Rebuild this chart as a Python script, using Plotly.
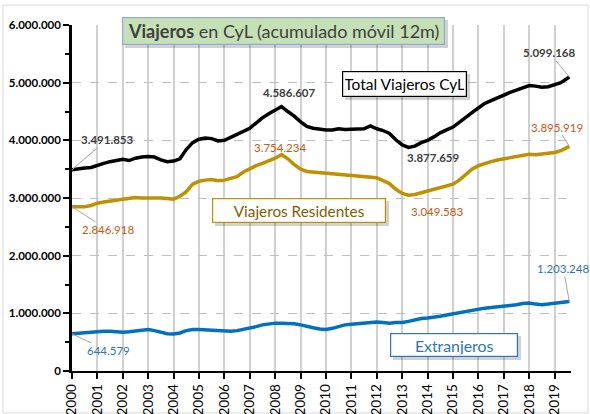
import pandas as pd
import plotly.graph_objects as go

# ---------------- data (millions of travellers, 12-month rolling sum) ----------------
dates = [d.strftime("%Y-%m-%d") for d in pd.date_range("2000-01-01", "2019-04-01", freq="QS")] + ["2019-08-01"]

total = [3.491853, 3.51, 3.52, 3.53, 3.57, 3.60, 3.63, 3.65, 3.67, 3.65, 3.69, 3.71,
         3.72, 3.71, 3.66, 3.63, 3.64, 3.68, 3.84, 3.96, 4.02, 4.04, 4.03, 3.99,
         4.00, 4.05, 4.10, 4.15, 4.21, 4.30, 4.39, 4.46, 4.53, 4.586607, 4.50, 4.42,
         4.32, 4.24, 4.21, 4.19, 4.18, 4.18, 4.20, 4.19, 4.19, 4.20, 4.20, 4.25,
         4.20, 4.17, 4.12, 4.01, 3.92, 3.877659, 3.90, 3.96, 4.00, 4.06, 4.13, 4.18,
         4.23, 4.31, 4.40, 4.48, 4.56, 4.64, 4.69, 4.74, 4.79, 4.83, 4.87, 4.91,
         4.95, 4.94, 4.92, 4.93, 4.96, 5.00, 5.099168]

residentes = [2.846918, 2.85, 2.85, 2.87, 2.91, 2.93, 2.94, 2.96, 2.98, 2.99, 3.01, 3.00,
              3.00, 3.01, 3.00, 2.99, 2.98, 3.03, 3.11, 3.24, 3.29, 3.31, 3.32, 3.30,
              3.31, 3.34, 3.37, 3.45, 3.51, 3.56, 3.60, 3.64, 3.69, 3.754234, 3.68, 3.58,
              3.50, 3.46, 3.45, 3.44, 3.43, 3.43, 3.42, 3.41, 3.40, 3.38, 3.38, 3.37,
              3.35, 3.30, 3.25, 3.15, 3.08, 3.049583, 3.06, 3.09, 3.12, 3.15, 3.18, 3.21,
              3.24, 3.31, 3.40, 3.50, 3.56, 3.60, 3.63, 3.66, 3.68, 3.71, 3.73, 3.75,
              3.76, 3.75, 3.76, 3.77, 3.79, 3.82, 3.895919]

extranjeros = [0.644579, 0.655, 0.665, 0.68, 0.69, 0.69, 0.69, 0.68, 0.67, 0.68, 0.69, 0.71,
               0.72, 0.70, 0.67, 0.645, 0.64, 0.66, 0.70, 0.72, 0.72, 0.715, 0.70, 0.69,
               0.69, 0.69, 0.70, 0.72, 0.74, 0.77, 0.80, 0.82, 0.83, 0.83, 0.83, 0.82,
               0.80, 0.77, 0.75, 0.73, 0.72, 0.74, 0.77, 0.80, 0.81, 0.82, 0.83, 0.85,
               0.85, 0.84, 0.83, 0.84, 0.84, 0.86, 0.89, 0.91, 0.92, 0.93, 0.95, 0.97,
               0.99, 1.01, 1.03, 1.06, 1.08, 1.09, 1.10, 1.11, 1.13, 1.14, 1.15, 1.17,
               1.18, 1.16, 1.15, 1.16, 1.17, 1.18, 1.203248]

years = list(range(2000, 2020))
y_ticks = [0, 1e6, 2e6, 3e6, 4e6, 5e6, 6e6]
y_labels = ["0", "1.000.000", "2.000.000", "3.000.000", "4.000.000", "5.000.000", "6.000.000"]


def fmt(v):
    return f"{round(v):,}".replace(",", ".")


total_v = [v * 1e6 for v in total]
res_v = [v * 1e6 for v in residentes]
ext_v = [v * 1e6 for v in extranjeros]

FONT = "Lato"
W, H = 590, 414
L, R, T, B = 72, 19, 25, 43
PW, PH = W - L - R, H - T - B


def px(xp):
    return (xp - L) / PW


def py(yp):
    return (H - B - yp) / PH


fig = go.Figure()
fig.add_trace(go.Scatter(x=dates, y=ext_v, mode="lines", line=dict(color="#0070C0", width=3.5),
                         name="Extranjeros", hoverinfo="skip"))
fig.add_trace(go.Scatter(x=dates, y=res_v, mode="lines", line=dict(color="#BF9000", width=3.5),
                         name="Viajeros Residentes", hoverinfo="skip"))
fig.add_trace(go.Scatter(x=dates, y=total_v, mode="lines", line=dict(color="#000000", width=3.5),
                         name="Total Viajeros CyL", hoverinfo="skip"))

annotations = []


def box(text, cx, cy, w, h, color, border, bg, size):
    return dict(text=text, xref="paper", yref="paper", x=px(cx), y=py(cy), showarrow=False,
                xanchor="center", yanchor="middle", width=w, height=h, align="center",
                font=dict(family=FONT, size=size, color=color), bgcolor=bg,
                bordercolor=border, borderwidth=1.2, borderpad=2)


annotations.append(box("<b>Viajeros</b> en CyL (acumulado móvil 12m)", 283, 31, 317, 22,
                       "#404040", "#8FAADC", "#C5E0B4", 18))
annotations.append(box("Total Viajeros CyL", 404, 83.5, 119, 20, "#000000", "#000000", "white", 15.5))
annotations.append(box("Viajeros Residentes", 299, 210.5, 168, 19, "#7F6000", "#BF9000", "white", 15.3))
annotations.append(box("Extranjeros", 454, 345, 122, 18, "#2E75B6", "#2E75B6", "white", 15.8))


def lbl(text, cx, cy, color, bold=False):
    t = f"<b>{text}</b>" if bold else text
    return dict(text=t, xref="paper", yref="paper", x=px(cx), y=py(cy), showarrow=False,
                xanchor="center", yanchor="middle", font=dict(family=FONT, size=11.5, color=color))


def lead(text, x, y, ax, ay, color, bold=False):
    t = f"<b>{text}</b>" if bold else text
    return dict(text=t, x=x, y=y, xref="x", yref="y", ax=ax, ay=ay, showarrow=True,
                arrowhead=0, arrowwidth=1, arrowcolor="#A6A6A6", standoff=0, startstandoff=0,
                font=dict(family=FONT, size=11.5, color=color))


DARK, ORANGE, BLUE = "#404040", "#C55A11", "#2E75B6"
annotations += [
    lead(fmt(total_v[0]), dates[0], total_v[0], 35, -30, DARK, True),
    lead(fmt(res_v[0]), dates[0], res_v[0], 36, 23, ORANGE),
    lead(fmt(ext_v[0]), dates[0], ext_v[0], 36, 17, BLUE),
    lead(fmt(total_v[-1]), dates[-1], total_v[-1], -20, -24, DARK, True),
    lead(fmt(res_v[-1]), dates[-1], res_v[-1], -12, -19, ORANGE),
    lead(fmt(ext_v[-1]), dates[-1], ext_v[-1], -6, -33, BLUE),
    lbl(fmt(max(total_v[:60])), 289, 92, DARK, True),
    lbl(fmt(min(total_v[40:])), 433, 157, DARK, True),
    lbl(fmt(max(res_v[:60])), 280, 147, ORANGE),
    lbl(fmt(min(res_v[40:])), 437, 212, ORANGE),
]

shapes = [
    # outer chart border
    dict(type="rect", xref="paper", yref="paper", x0=px(3), x1=px(588), y0=py(413), y1=py(5),
         line=dict(color="#D9D9D9", width=1), fillcolor="rgba(0,0,0,0)", layer="below"),
]
# soft shadows under the text boxes
for (x0, y0, x1, y1) in [(122, 17, 445, 45), (342, 71, 467, 97), (212, 198, 386, 223), (390, 333, 518, 357)]:
    shapes.append(dict(type="rect", xref="paper", yref="paper", x0=px(x0 + 3), x1=px(x1 + 3),
                       y0=py(y1 + 3), y1=py(y0 + 3), line=dict(width=0),
                       fillcolor="rgba(0,0,0,0.18)", layer="above"))

fig.update_layout(
    width=W, height=H, margin=dict(l=L, r=R, t=T, b=B, autoexpand=False),
    paper_bgcolor="white", plot_bgcolor="white", showlegend=False,
    font=dict(family=FONT, color="#000000"),
    annotations=annotations, shapes=shapes,
)
fig.update_xaxes(
    type="date", range=["2000-01-01", "2019-08-25"],
    tickvals=[f"{y}-01-01" for y in years], ticktext=[str(y) for y in years],
    tickangle=-90, tickfont=dict(family=FONT, size=13.5, color="#000000"),
    showgrid=True, gridcolor="#D0D0D0", gridwidth=1.5,
    showline=True, linecolor="#000000", linewidth=1.5,
    ticks="outside", ticklen=6, tickcolor="#000000", tickwidth=1.5,
    zeroline=False, automargin=False,
)
fig.update_yaxes(
    range=[0, 6e6], tickvals=y_ticks, ticktext=[f"<b>{t}</b>" for t in y_labels],
    tickfont=dict(family=FONT, size=11.5, color="#000000"),
    showgrid=True, gridcolor="#BFBFBF", gridwidth=1, griddash="dash",
    showline=True, linecolor="#000000", linewidth=2.5,
    ticks="outside", ticklen=6, tickcolor="#000000", tickwidth=1.5,
    minor=dict(dtick=500000, ticks="outside", ticklen=4, tickcolor="#000000", showgrid=False),
    zeroline=False, automargin=False,
)

fig.write_html("out.html", config={"displayModeBar": False},
               post_script="document.body.style.margin='0';document.body.style.overflow='hidden';")
